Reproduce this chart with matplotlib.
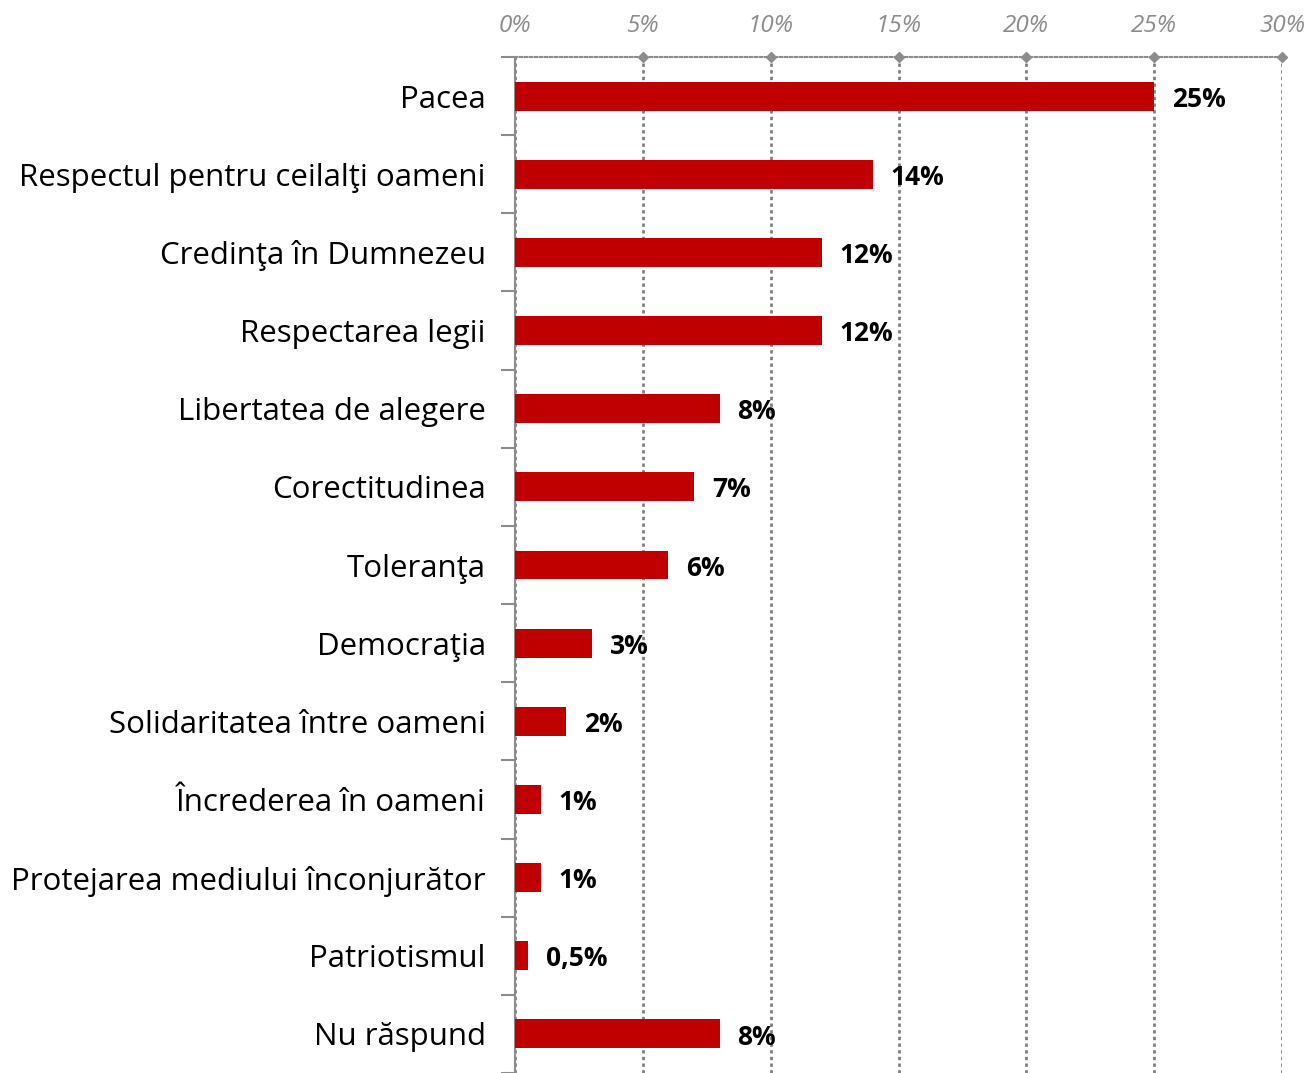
import matplotlib
matplotlib.use("Agg")
import matplotlib.pyplot as plt
import numpy as np

categories = [
    "Pacea",
    "Respectul pentru ceilalţi oameni",
    "Credinţa în Dumnezeu",
    "Respectarea legii",
    "Libertatea de alegere",
    "Corectitudinea",
    "Toleranţa",
    "Democraţia",
    "Solidaritatea între oameni",
    "Încrederea în oameni",
    "Protejarea mediului înconjurător",
    "Patriotismul",
    "Nu răspund",
]
values = [25, 14, 12, 12, 8, 7, 6, 3, 2, 1, 1, 0.5, 8]
x_ticks = [0, 5, 10, 15, 20, 25, 30]

BAR_RED = "#c00000"
GREY = "#8c8c8c"

fig = plt.figure(figsize=(13.09, 10.73), dpi=100)
ax = fig.add_axes([515 / 1309, 0.0, 767 / 1309, 1 - 57 / 1073])

y = np.arange(len(categories))
ax.barh(y, values, height=0.37, color=BAR_RED, zorder=3)

for yi, v in zip(y, values):
    txt = f"{v:g}%".replace(".", ",")
    ax.text(v + 0.7, yi + 0.04, txt, va="center", ha="left",
            fontsize=19, fontweight="bold", family="Open Sans", color="black")

ax.set_xlim(0, 30)
ax.set_ylim(len(categories) - 0.5, -0.5)

# percent axis sits on top
ax.xaxis.tick_top()
ax.set_xticks(x_ticks)
ax.set_xticklabels([f"{t}%" for t in x_ticks], fontsize=17.5, style="italic",
                   color=GREY, family="Open Sans")
ax.tick_params(axis="x", length=0, pad=14)
ax.grid(axis="x", color="#808080", linestyle=(0, (1.2, 1.2)), linewidth=2, zorder=0)

ax.set_yticks(y)
ax.set_yticklabels(categories, fontsize=22.5, family="Open Sans")
ax.set_yticks(np.arange(-0.5, len(categories), 1), minor=True)
ax.tick_params(axis="y", which="major", length=0, pad=21)
ax.tick_params(axis="y", which="minor", length=10, width=1.5, color=GREY)

for side in ("right", "bottom"):
    ax.spines[side].set_visible(False)
ax.spines["left"].set_color(GREY)
ax.spines["left"].set_linewidth(1.5)
ax.spines["top"].set_color(GREY)
ax.spines["top"].set_linestyle((0, (1.2, 1.2)))
ax.spines["top"].set_linewidth(1.5)

ax.plot(x_ticks[1:], [-0.5] * (len(x_ticks) - 1), linestyle="none", marker="D",
        markersize=5, color=GREY, clip_on=False, zorder=4)

fig.savefig("out.png", dpi=100)
